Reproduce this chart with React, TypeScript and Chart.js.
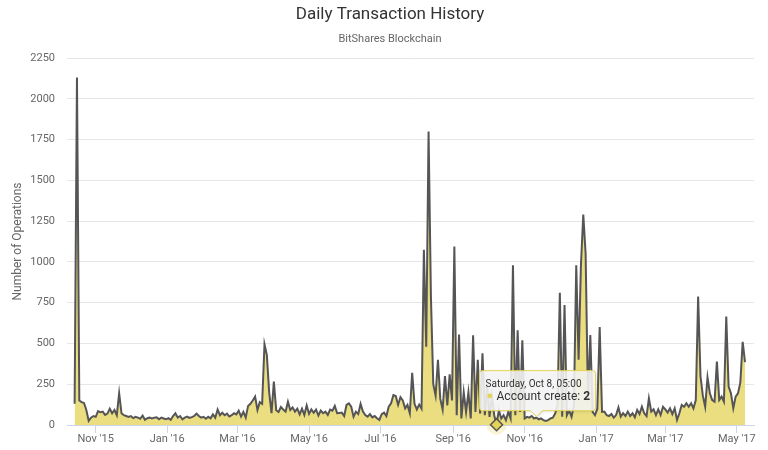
import React, { useEffect, useRef } from "react";
import { Chart, registerables } from "chart.js";

Chart.register(...registerables);

const FONT = 'Roboto, "Liberation Sans", Arial, sans-serif';

const chartTitle = "Daily Transaction History";
const chartSubtitle = "BitShares Blockchain";
const yAxisTitle = "Number of Operations";
const seriesName = "Account create";

// first sample date and spacing (days) of the samples below
const startDate = Date.UTC(2015, 9, 14);
const stepDays = 2;

// number of operations, one value every two days from Oct 14 2015
const operations = [
  130, 2130, 150, 140, 135, 92, 25, 45, 55, 50,
  85, 78, 82, 62, 70, 100, 72, 92, 60, 195,
  72, 60, 55, 50, 55, 42, 50, 45, 38, 58,
  32, 42, 45, 40, 45, 47, 35, 45, 40, 35,
  42, 32, 55, 72, 45, 55, 35,
  45, 51, 43, 48, 55, 70, 55, 45, 50, 38,
  50, 41, 65, 45, 95, 60, 75, 60, 70, 52,
  60, 72, 65, 88, 52, 80, 45,
  117, 130, 150, 174, 92, 140, 130, 495, 430, 200,
  72, 266, 90, 80, 110, 95, 82, 143, 92, 108, 82, 100,
  65, 100, 62, 120, 68, 95, 75, 95, 58, 88,
  72, 82, 62, 95, 88, 117, 72, 74, 76, 55,
  123, 133, 112, 51, 82, 67, 129, 82, 61, 51,
  67, 47, 55, 41, 31, 67, 76, 55, 112, 133,
  184, 178, 123, 170, 150, 102, 123, 72,
  320, 130, 95, 125, 100, 1075, 480, 1800, 790, 250,
  180, 400, 160, 95, 300, 120, 310, 150, 1095, 60,
  555, 40, 200, 80, 200, 40, 550, 80, 400, 70,
  440, 60, 250, 50, 180, 60, 2, 90, 40, 60,
  30, 80, 40, 980, 60, 580, 80, 520, 40, 50,
  45, 55, 40, 45, 35, 40, 30, 25, 30, 40,
  45, 70, 120, 810, 50, 735, 60, 90, 50, 120,
  980, 400, 980, 1290, 1050, 150, 552, 80, 60, 100,
  600, 80, 82, 60, 55, 67, 45, 61, 108, 51,
  72, 55, 82, 55, 72, 47, 92, 67, 112,
  72, 55, 164, 82, 96, 61, 96, 61, 112, 96,
  76, 102, 67, 102, 31, 72, 123, 112, 133, 112,
  133, 102, 153, 787, 300, 180, 112, 292, 194, 153,
  143, 389, 153, 174, 143, 665, 235, 194, 102, 174,
  194, 260, 510, 385,
];

const xMin = Date.UTC(2015, 9, 7, 12);
const xMax = Date.UTC(2017, 4, 15, 16);

const tickDates = [
  Date.UTC(2015, 10, 1),
  Date.UTC(2016, 0, 1),
  Date.UTC(2016, 2, 1),
  Date.UTC(2016, 4, 1),
  Date.UTC(2016, 6, 1),
  Date.UTC(2016, 8, 1),
  Date.UTC(2016, 10, 1),
  Date.UTC(2017, 0, 1),
  Date.UTC(2017, 2, 1),
  Date.UTC(2017, 4, 1),
];
const tickLabels = [
  "Nov '15", "Jan '16", "Mar '16", "May '16", "Jul '16",
  "Sep '16", "Nov '16", "Jan '17", "Mar '17", "May '17",
];

const yMax = 2250;
const yStep = 250;

const hoverIndex = 180;
const tooltipHeader = "Saturday, Oct 8, 05:00";

const DAY = 86400000;
const LINE = "#555557";
const YELLOW = "#e4d354";
const FILL = "#ebde80";

const overlayPlugin = {
  id: "overlay",
  beforeDatasetsDraw(chart: any) {
    const el = chart.getDatasetMeta(0).data[hoverIndex];
    if (!el) return;
    const ctx = chart.ctx;
    ctx.save();
    ctx.beginPath();
    ctx.arc(el.x, el.y, 10, 0, Math.PI * 2);
    ctx.fillStyle = "rgba(228,211,84,0.25)";
    ctx.fill();
    ctx.restore();
  },
  afterDraw(chart: any) {
    const ctx = chart.ctx;
    ctx.save();
    // titles
    ctx.textAlign = "center";
    ctx.textBaseline = "middle";
    ctx.fillStyle = "#333333";
    ctx.font = `17px ${FONT}`;
    ctx.fillText(chartTitle, 390, 15);
    ctx.fillStyle = "#666666";
    ctx.font = `11px ${FONT}`;
    ctx.fillText(chartSubtitle, 390, 39);

    // tooltip
    const el = chart.getDatasetMeta(0).data[hoverIndex];
    if (el) {
      const px = el.x;
      const py = el.y;
      const left = px - 17;
      const top = py - 54;
      const w = 116;
      const h = 40;
      const bottom = top + h;
      const tipX = px + 40;
      const r = 3;
      ctx.beginPath();
      ctx.moveTo(left + r, top);
      ctx.lineTo(left + w - r, top);
      ctx.quadraticCurveTo(left + w, top, left + w, top + r);
      ctx.lineTo(left + w, bottom - r);
      ctx.quadraticCurveTo(left + w, bottom, left + w - r, bottom);
      ctx.lineTo(tipX + 6, bottom);
      ctx.lineTo(tipX, bottom + 6);
      ctx.lineTo(tipX - 6, bottom);
      ctx.lineTo(left + r, bottom);
      ctx.quadraticCurveTo(left, bottom, left, bottom - r);
      ctx.lineTo(left, top + r);
      ctx.quadraticCurveTo(left, top, left + r, top);
      ctx.closePath();
      ctx.shadowColor = "rgba(0,0,0,0.15)";
      ctx.shadowOffsetX = 1;
      ctx.shadowOffsetY = 1;
      ctx.shadowBlur = 3;
      ctx.fillStyle = "rgba(247,247,247,0.88)";
      ctx.fill();
      ctx.shadowColor = "transparent";
      ctx.strokeStyle = YELLOW;
      ctx.lineWidth = 1;
      ctx.stroke();

      ctx.textAlign = "left";
      ctx.textBaseline = "middle";
      ctx.fillStyle = "#333333";
      ctx.font = `10px ${FONT}`;
      ctx.fillText(tooltipHeader, left + 6, top + 14);

      const by = top + 26;
      ctx.fillStyle = YELLOW;
      ctx.font = `11px ${FONT}`;
      ctx.fillText("\u25CF", left + 7, by);
      ctx.fillStyle = "#333333";
      ctx.font = `12px ${FONT}`;
      const label = `${seriesName}: `;
      ctx.fillText(label, left + 17, by);
      const lw = ctx.measureText(label).width;
      ctx.font = `bold 12px ${FONT}`;
      ctx.fillText(String(operations[hoverIndex]), left + 17 + lw, by);
    }
    ctx.restore();
  },
};

export default function App() {
  const canvasRef = useRef<HTMLCanvasElement | null>(null);

  useEffect(() => {
    const canvas = canvasRef.current;
    if (!canvas) return;
    const points = operations.map((v, i) => ({
      x: startDate + i * stepDays * DAY,
      y: v,
    }));
    const chart = new Chart(canvas, {
      type: "line",
      data: {
        datasets: [
          {
            label: seriesName,
            data: points,
            fill: "origin",
            backgroundColor: FILL,
            borderColor: LINE,
            borderWidth: 2,
            tension: 0,
            clip: 10,
            pointRadius: (c: any) => (c.dataIndex === hoverIndex ? 6 : 0),
            pointHoverRadius: 0,
            pointStyle: "rectRot",
            pointBackgroundColor: YELLOW,
            pointBorderColor: LINE,
            pointBorderWidth: 1.5,
          },
        ],
      },
      options: {
        responsive: true,
        maintainAspectRatio: false,
        animation: false,
        events: [],
        layout: { padding: { top: 58, left: 0, right: 14, bottom: 0 } },
        plugins: {
          legend: { display: false },
          tooltip: { enabled: false },
          title: { display: false },
        },
        scales: {
          x: {
            type: "linear",
            min: xMin,
            max: xMax,
            afterBuildTicks: (s: any) => {
              s.ticks = tickDates.map((v) => ({ value: v }));
            },
            afterFit: (s: any) => {
              s.height = 25;
            },
            ticks: {
              autoSkip: false,
              maxRotation: 0,
              minRotation: 0,
              padding: 0,
              color: "#666666",
              font: { family: FONT, size: 11 },
              callback: (v: any) => tickLabels[tickDates.indexOf(Number(v))] ?? "",
            },
            grid: {
              drawOnChartArea: false,
              drawTicks: true,
              tickLength: 8,
              color: "#ccd6eb",
            },
            border: { display: true, color: "#ccd6eb" },
          },
          y: {
            min: 0,
            max: yMax,
            afterFit: (s: any) => {
              s.width = 67;
            },
            ticks: {
              stepSize: yStep,
              padding: 12,
              color: "#666666",
              font: { family: FONT, size: 11 },
              callback: (v: any) => String(v),
            },
            grid: { color: "#e6e6e6", drawTicks: false },
            border: { display: false },
            title: {
              display: true,
              text: yAxisTitle,
              color: "#666666",
              font: { family: FONT, size: 12 },
              padding: { top: 11, bottom: 0 },
            },
          },
        },
      },
      plugins: [overlayPlugin],
    });
    return () => chart.destroy();
  }, []);

  return (
    <div style={{ position: "absolute", left: 0, top: 0, width: 768, height: 450 }}>
      <canvas ref={canvasRef} />
    </div>
  );
}
